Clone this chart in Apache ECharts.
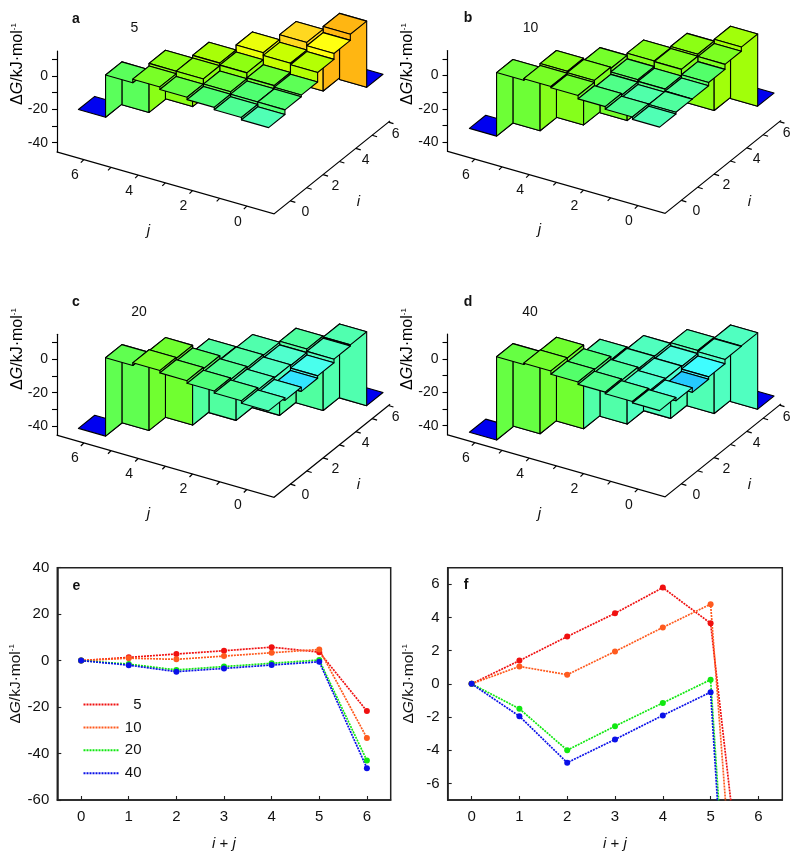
<!DOCTYPE html>
<html>
<head>
<meta charset="utf-8">
<style>html,body{margin:0;padding:0;background:#fff}#c{width:800px;height:856px}</style>
<script src="https://cdn.jsdelivr.net/npm/echarts@6/dist/echarts.min.js"></script>
</head>
<body>
<div id="c"></div>
<script>
// Surface values: row index = i, column index = j (kJ/mol)
const surface5 = [
  [0, 1.4, 2.85, 4.25, 5.8, 3.65, -21.7],
  [2.8, 2.9, 4.3, 7.4, 7.4, -22],
  [3.8, 4.8, 7.8, 9, -21.7],
  [9.5, 10.4, 12, -22],
  [13, 15, -22],
  [16.7, -22],
  [-23]
];
const surface10 = [
  [0, 1.4, 3, 5, 5.8, 4.8, -33.3],
  [1.05, 0.55, 1.95, 6.2, 7, -33.3],
  [1.2, 2.4, 3.4, 5.5, -33],
  [3.2, 6.4, 6.8, -33.6],
  [6.2, 7.6, -33.8],
  [8.7, -34],
  [-34.6]
];
const surface20 = [
  [0, 1.4, 2.6, 4.2, 5.6, 4, -43],
  [-1.5, 0, 1.6, 3.4, 5, -42.8],
  [-4, -0.6, 0.8, 1, -42.8],
  [-2.55, -1.15, 0.4, -43.2],
  [-0.4, 1, -43.4],
  [0.3, -43.7],
  [-44]
];
const surface40 = [
  [0, 0.8, 1.8, 3.2, 5.2, 4.4, -45.5],
  [-1.95, -1, 1, 2.8, 5, -45],
  [-4.75, -1.4, -0.2, 0.6, -45.2],
  [-3.35, -1.9, -0.4, -45.6],
  [-0.8, 0, -45.4],
  [-0.5, -45.7],
  [-46.3]
];
// Lowest free energy per i + j
const sumTicks = [0, 1, 2, 3, 4, 5, 6];
const lowest5 = [0, 1.4, 2.85, 4.25, 5.8, 3.65, -21.7];
const lowest10 = [0, 1.05, 0.55, 1.95, 3.4, 4.8, -33.3];
const lowest20 = [0, -1.5, -4, -2.55, -1.15, 0.25, -43];
const lowest40 = [0, -1.95, -4.75, -3.35, -1.9, -0.5, -46.3];
const seriesNames = ['5', '10', '20', '40'];
const seriesColors = ['#f01010', '#ff5a1e', '#10e810', '#0a10e8'];
const zLabelTicks = [0, -20, -40];
const zAllTicks = [10, 0, -10, -20, -30, -40];
const eTicks = [-60, -40, -20, 0, 20, 40];
const fTicks = [-6, -4, -2, 0, 2, 4, 6];
const indexTicks = [0, 1, 2, 3, 4, 5, 6];
const indexLabels = [0, 2, 4, 6];
// Colour ramp
const rampValues = [-22, -5, -3.3, -2, -0.5, 1, 3, 5, 8, 10, 13, 15, 17];
const rampColors = ['#0000f0', '#20c0ff', '#40ffff', '#50ffe0', '#50ffc0', '#50ffa0', '#50ff70', '#70ff30', '#90ff10', '#c0ff00', '#ffff10', '#ffd820', '#ffb010'];

const FONT = '"Liberation Sans", Arial, sans-serif';
const UJ = 27.17, UI = 16.35, KJ = 4.65, KI = 7.86, BASE = -45.5;

function rampColor(v) {
  if (v <= rampValues[0]) return rampColors[0];
  for (let k = 1; k < rampValues.length; k++) {
    if (v <= rampValues[k]) {
      const t = (v - rampValues[k - 1]) / (rampValues[k] - rampValues[k - 1]);
      return echarts.color.lerp(t, [rampColors[k - 1], rampColors[k]]);
    }
  }
  return rampColors[rampColors.length - 1];
}
const panels = [
  {name: 'a', title: '5', m: surface5, left: 57, top: 51, width: 217, tx: 134.5, ty: 28, lx: 76, ly: 19, nx: 17.5, ny: 64},
  {name: 'b', title: '10', m: surface10, left: 447.5, top: 50.5, width: 217.5, tx: 530.5, ty: 28, lx: 468, ly: 18, nx: 408, ny: 64},
  {name: 'c', title: '20', m: surface20, left: 57, top: 334.3, width: 217, tx: 139, ty: 312, lx: 76, ly: 302, nx: 17.5, ny: 349},
  {name: 'd', title: '40', m: surface40, left: 447.5, top: 334, width: 217.5, tx: 530, ty: 312, lx: 468, ly: 302, nx: 408, ny: 349}
];
function project(api, p, i, j, z) {
  return api.coord([p.width + (i + 1) * UI - (j + 1) * UJ, z + (j - 7) * KJ + (i + 1) * KI]);
}
function cellRows(m) {
  const rows = [];
  m.forEach((row, i) => row.forEach((z, j) => rows.push([i, j, z])));
  rows.sort((a, b) => (b[0] + b[1]) - (a[0] + a[1]));
  return rows;
}
function poly(points, fill) {
  return {type: 'polygon', silent: true, shape: {points},
    style: {fill, stroke: '#000', lineWidth: 1.1, lineJoin: 'round'}};
}
function cellRenderer(p) {
  return function (params, api) {
    const i = api.value(0), j = api.value(1), z = api.value(2);
    const m = p.m, kids = [];
    const nextI = m[i + 1] && m[i + 1][j];
    const nextJ = m[i][j + 1];
    if (nextI !== undefined && nextI !== z) {
      kids.push(poly([
        project(api, p, i + .5, j - .5, z), project(api, p, i + .5, j + .5, z),
        project(api, p, i + .5, j + .5, nextI), project(api, p, i + .5, j - .5, nextI)
      ], rampColor(Math.max(z, nextI))));
    }
    if (nextJ !== undefined && nextJ !== z) {
      kids.push(poly([
        project(api, p, i - .5, j + .5, z), project(api, p, i + .5, j + .5, z),
        project(api, p, i + .5, j + .5, nextJ), project(api, p, i - .5, j + .5, nextJ)
      ], rampColor(Math.max(z, nextJ))));
    }
    kids.push(poly([
      project(api, p, i - .5, j - .5, z), project(api, p, i + .5, j - .5, z),
      project(api, p, i + .5, j + .5, z), project(api, p, i - .5, j + .5, z)
    ], rampColor(z)));
    return {type: 'group', children: kids};
  };
}
function frameRenderer(p) {
  return function (params, api) {
    const kids = [];
    const lineStyle = {stroke: '#000', lineWidth: 1.2};
    const a = project(api, p, -1, 7, BASE), b = project(api, p, -1, -1, BASE), c = project(api, p, 6.1, -1, BASE);
    kids.push({type: 'polyline', silent: true, shape: {points: [a, b, c]}, style: {...lineStyle, fill: null}});
    indexTicks.forEach(v => {
      const pj = project(api, p, -1, v, BASE), pi = project(api, p, v, -1, BASE);
      kids.push({type: 'line', silent: true, shape: {x1: pj[0], y1: pj[1], x2: pj[0] - 3, y2: pj[1] + 3}, style: lineStyle});
      kids.push({type: 'line', silent: true, shape: {x1: pi[0], y1: pi[1], x2: pi[0] + 5, y2: pi[1] + 1.5}, style: lineStyle});
    });
    indexLabels.forEach(v => {
      const pj = project(api, p, -1, v, BASE), pi0 = project(api, p, 0, -1, BASE);
      kids.push({type: 'text', silent: true, style: {x: pj[0] - 9, y: pj[1] + 15.5, text: String(v), fill: '#111', font: '14px ' + FONT, align: 'center', verticalAlign: 'middle'}});
      kids.push({type: 'text', silent: true, style: {x: pi0[0] + 15 + v * 15.05, y: pi0[1] + 11 - v * 13, text: String(v), fill: '#111', font: '14px ' + FONT, align: 'center', verticalAlign: 'middle'}});
    });
    kids.push({type: 'text', silent: true, style: {x: b[0] - 125.7, y: b[1] + 16.5, text: 'j', fill: '#111', font: 'italic 15px ' + FONT, align: 'center', verticalAlign: 'middle'}});
    kids.push({type: 'text', silent: true, style: {x: b[0] + 84.3, y: b[1] - 12, text: 'i', fill: '#111', font: 'italic 15px ' + FONT, align: 'center', verticalAlign: 'middle'}});
    return {type: 'group', children: kids};
  };
}
function nameRichAt(size) {
  return {
    n: {fontFamily: FONT, fontSize: size, color: '#111'},
    g: {fontFamily: FONT, fontSize: size, fontStyle: 'italic', color: '#111'},
    s: {fontFamily: FONT, fontSize: 8, color: '#111', verticalAlign: 'top', lineHeight: size}
  };
}
const dGName = '{n|\u0394}{g|G}{n|/kJ\u00b7mol}{s|-1}';
const sumRich = {
  g: {fontFamily: FONT, fontSize: 15, fontStyle: 'italic', color: '#111'},
  n: {fontFamily: FONT, fontSize: 15, color: '#111'}
};
const sumName = '{g|i}{n| + }{g|j}';

const grid = [], xAxis = [], yAxis = [], series = [], graphic = [];
panels.forEach((p, k) => {
  grid.push({left: p.left, top: p.top, width: p.width, height: 100.9});
  xAxis.push({gridIndex: k, type: 'value', min: 0, max: p.width, show: false});
  yAxis.push({gridIndex: k, type: 'value', min: BASE, max: 15, splitLine: {show: false},
    axisLine: {show: true, onZero: false, lineStyle: {color: '#000', width: 1.2}},
    axisTick: {show: true, length: 5, lineStyle: {color: '#000', width: 1.1}, customValues: zAllTicks},
    axisLabel: {show: true, margin: 9, fontFamily: FONT, fontSize: 14, color: '#111', customValues: zLabelTicks}
  });
  series.push({type: 'custom', name: 'frame ' + p.name, xAxisIndex: k, yAxisIndex: k, clip: false, silent: true,
    data: [[0, 0]], renderItem: frameRenderer(p), encode: {x: 0, y: 1}, animation: false});
  series.push({type: 'custom', name: 'surface ' + p.title, xAxisIndex: k, yAxisIndex: k, clip: false, silent: true,
    data: cellRows(p.m), renderItem: cellRenderer(p), dimensions: ['i', 'j', 'z'], encode: {x: 0, y: 1}, animation: false});
  graphic.push({type: 'text', silent: true, x: p.lx, y: p.ly, style: {text: p.name, font: 'bold 14px ' + FONT, fill: '#111', align: 'center', verticalAlign: 'middle'}});
  graphic.push({type: 'text', silent: true, x: p.tx, y: p.ty, style: {text: p.title, font: '14px ' + FONT, fill: '#111', align: 'center', verticalAlign: 'middle'}});
  graphic.push({type: 'text', silent: true, x: p.nx, y: p.ny, rotation: Math.PI / 2, style: {text: dGName, rich: nameRichAt(16), align: 'center', verticalAlign: 'middle'}});
});
// Line panels
const linePanels = [
  {name: 'e', left: 57.3, width: 333.4, yMin: -60, yMax: 40, ticks: eTicks, lx: 76.5, ly: 586},
  {name: 'f', left: 447.7, width: 334.6, yMin: -7, yMax: 7, ticks: fTicks, lx: 466, ly: 585}
];
const lowest = [lowest5, lowest10, lowest20, lowest40];
linePanels.forEach((p, idx) => {
  const k = panels.length + idx;
  grid.push({left: p.left, top: 567.7, width: p.width, height: 232.3, show: true, borderColor: '#222', borderWidth: 1.5, backgroundColor: 'transparent'});
  xAxis.push({gridIndex: k, type: 'value', min: -0.5, max: 6.5, splitLine: {show: false},
    name: sumName, nameLocation: 'middle', nameGap: 36, nameTextStyle: {rich: sumRich},
    axisLine: {show: true, onZero: false, lineStyle: {color: '#222', width: 1.5}},
    axisTick: {show: true, inside: true, length: 4, lineStyle: {color: '#222', width: 1.1}, customValues: sumTicks},
    axisLabel: {show: true, margin: 9, fontFamily: FONT, fontSize: 15, color: '#111', customValues: sumTicks}
  });
  yAxis.push({gridIndex: k, type: 'value', min: p.yMin, max: p.yMax, splitLine: {show: false},
    name: dGName, nameLocation: 'middle', nameGap: 31, nameRotate: 90, nameTextStyle: {rich: nameRichAt(15.5)},
    axisLine: {show: true, onZero: false, lineStyle: {color: '#222', width: 1.5}},
    axisTick: {show: true, inside: true, length: 4, lineStyle: {color: '#222', width: 1.1}, customValues: p.ticks},
    axisLabel: {show: true, margin: 8, fontFamily: FONT, fontSize: 15, color: '#111', customValues: p.ticks}
  });
  lowest.forEach((vals, s) => {
    series.push({type: 'line', name: seriesNames[s], xAxisIndex: k, yAxisIndex: k, clip: true, silent: true, animation: false,
      data: vals.map((v, x) => [sumTicks[x], v]),
      symbol: 'circle', symbolSize: 6, showSymbol: true, showAllSymbol: true,
      itemStyle: {color: seriesColors[s]},
      lineStyle: {color: seriesColors[s], width: 1.7, type: [2, 1]}
    });
  });
  graphic.push({type: 'text', silent: true, x: p.lx, y: p.ly, style: {text: p.name, font: 'bold 14px ' + FONT, fill: '#111', align: 'center', verticalAlign: 'middle'}});
});

const chart = echarts.init(document.getElementById('c'), null, {renderer: 'canvas'});
chart.setOption({
  animation: false,
  backgroundColor: '#fff',
  grid, xAxis, yAxis, series, graphic,
  legend: {
    data: seriesNames, orient: 'vertical', left: 82.5, top: 697, itemWidth: 35, itemHeight: 14, itemGap: 7.9,
    selectedMode: false, padding: 0,
    itemStyle: {opacity: 0},
    formatter: name => '{r|' + name + '}',
    textStyle: {rich: {r: {fontFamily: FONT, fontSize: 15, color: '#111', width: 18, align: 'right', lineHeight: 14, height: 14}}}
  }
});
</script>
</body>
</html>
